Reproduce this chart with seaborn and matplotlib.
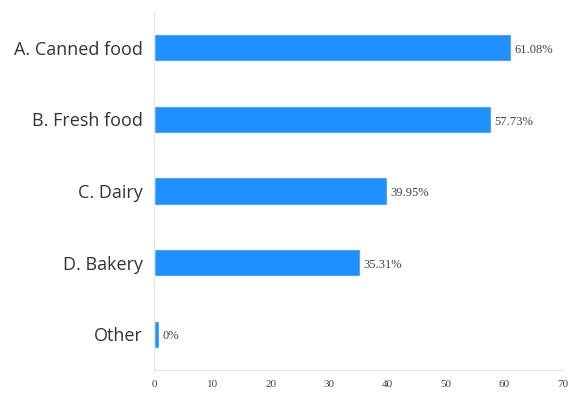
import matplotlib
matplotlib.use("Agg")
import matplotlib.pyplot as plt
import seaborn as sns
import pandas as pd

# data
categories = ["A. Canned food", "B. Fresh food", "C. Dairy", "D. Bakery", "Other"]
shares = [61.08, 57.73, 39.95, 35.31, 0]
x_ticks = [0, 10, 20, 30, 40, 50, 60, 70]

sns.set_theme(style="white")

df = pd.DataFrame({"category": categories, "share": shares})
# tiny minimum width so a 0% bar still shows (like barMinHeight)
df["shown"] = df["share"].clip(lower=0.8)

fig = plt.figure(figsize=(5.69, 3.94), dpi=100)
ax = fig.add_axes([0.2707, 0.061, 0.718, 0.9085])

sns.barplot(data=df, x="shown", y="category", color="#1E90FF", saturation=1,
            width=0.38, ax=ax)

for i, v in enumerate(df["share"]):
    lab = f"{v:.2f}%" if v else "0%"
    ax.text(df["shown"][i] + 0.6, i + 0.03, lab, va="center", ha="left",
            fontsize=9, color="#444444", family="Liberation Serif")

ax.set_xlim(0, 70)
ax.set_ylim(4.5, -0.5)
ax.set_xticks(x_ticks)
ax.set_xticklabels([str(t) for t in x_ticks], family="Liberation Serif",
                   fontsize=8, color="#444444")
ax.tick_params(axis="x", length=0, pad=7)
ax.tick_params(axis="y", length=0, pad=8)
for lbl in ax.get_yticklabels():
    lbl.set_fontfamily("Open Sans")
    lbl.set_fontsize(13)
    lbl.set_color("#333333")
ax.set_xlabel("")
ax.set_ylabel("")

for s in ["top", "right"]:
    ax.spines[s].set_visible(False)
for s in ["left", "bottom"]:
    ax.spines[s].set_color("#e6e6e6")
    ax.spines[s].set_linewidth(1)

fig.savefig("out.png", dpi=100)
